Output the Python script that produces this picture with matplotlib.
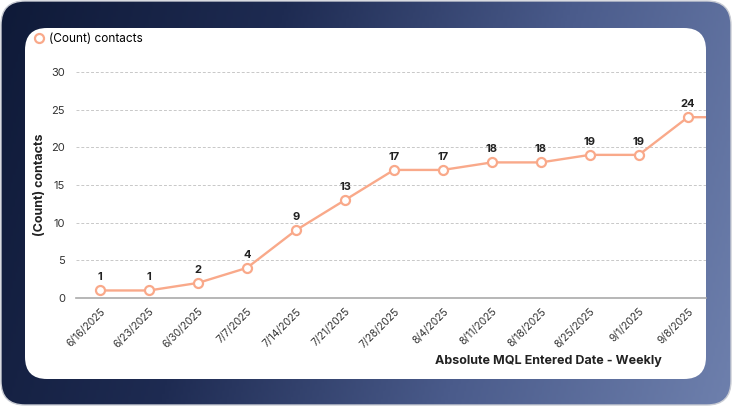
import matplotlib
matplotlib.use("Agg")
import matplotlib.pyplot as plt
import numpy as np
from matplotlib.patches import FancyBboxPatch
from matplotlib.lines import Line2D
from matplotlib.colors import LinearSegmentedColormap

# ── Data ────────────────────────────────────────────────────────────
weeks = ["6/16/2025", "6/23/2025", "6/30/2025", "7/7/2025", "7/14/2025",
         "7/21/2025", "7/28/2025", "8/4/2025", "8/11/2025", "8/18/2025",
         "8/25/2025", "9/1/2025", "9/8/2025", "9/15/2025"]
contacts = [1, 1, 2, 4, 9, 13, 17, 17, 18, 18, 19, 19, 24, 24]
y_ticks = [0, 5, 10, 15, 20, 25, 30]

C_LINE = "#F9A98A"
C_TEXT = "#222222"
FONT = ["Inter", "DejaVu Sans"]

W, H = 732, 409
fig = plt.figure(figsize=(W / 100, H / 100), dpi=100, facecolor="white")
plt.rcParams["font.family"] = FONT


def px(x, y):
    """pixel (from top-left) -> figure fraction"""
    return x / W, 1 - y / H


# ── Background panel with gradient ─────────────────────────────────
bg = fig.add_axes([0, 0, 1, 1])
bg.set_xlim(0, W)
bg.set_ylim(H, 0)
bg.axis("off")
cmap = LinearSegmentedColormap.from_list("bg", ["#0F1A38", "#1E2B52", "#4A5B8B", "#6E80AD"])
gx, gy = np.meshgrid(np.linspace(0, 1, 300), np.linspace(0, 1, 200))
grad = 0.85 * gx + 0.15 * gy
im = bg.imshow(grad, cmap=cmap, extent=[0, W, H, 0], aspect="auto", zorder=0)
panel = FancyBboxPatch((1, 1), W - 2, H - 5, boxstyle="round,pad=0,rounding_size=24",
                       facecolor="none", edgecolor="#C9CCD4", linewidth=1, zorder=1)
bg.add_patch(panel)
im.set_clip_path(panel)

card = FancyBboxPatch((25, 28), 681, 351, boxstyle="round,pad=0,rounding_size=22",
                      facecolor="white", edgecolor="none", zorder=2)
bg.add_patch(card)

# ── Chart ───────────────────────────────────────────────────────────
l, t = px(76, 72)
r, b = px(706, 298)
ax = fig.add_axes([l, b, r - l, t - b])
ax.set_facecolor("none")

x = np.arange(len(weeks))
ax.plot(x, contacts, color=C_LINE, linewidth=1.7, marker="o", markersize=6.5,
        markerfacecolor="white", markeredgecolor=C_LINE, markeredgewidth=1.6, zorder=3)

for xi, v in zip(x, contacts):
    ax.annotate(str(v), (xi, v), xytext=(0, 6), textcoords="offset points",
                ha="center", va="bottom", fontsize=8, fontweight="bold", color=C_TEXT)

ax.set_yticks(y_ticks)
ax.set_xticks(x)
ax.set_xticklabels(weeks, rotation=45, ha="right", rotation_mode="anchor")
ax.set_xlim(-0.49, 12.37)
ax.set_ylim(0, 30)
ax.tick_params(axis="x", length=0, labelsize=7.5, labelcolor="#333333", pad=6)
ax.tick_params(axis="y", length=0, labelsize=8, labelcolor="#333333", pad=8)
ax.grid(axis="y", linestyle=(0, (3, 2)), color="#C8C8C8", linewidth=0.7)
ax.grid(axis="x", visible=False)
for s in ["top", "right", "left"]:
    ax.spines[s].set_visible(False)
ax.spines["bottom"].set_color("#AAAAAA")
ax.spines["bottom"].set_linewidth(1.2)

ax.set_ylabel("(Count) contacts", fontsize=9, fontweight="bold", color=C_TEXT)
ax.yaxis.set_label_coords(-(76 - 46) / 630, 0.5)

xl, yl = px(662, 361)
fig.text(xl, yl, "Absolute MQL Entered Date - Weekly", ha="right", va="center",
         fontsize=9, fontweight="bold", color=C_TEXT)

# legend
handle = Line2D([], [], linestyle="none", marker="o", markersize=6.5,
                markerfacecolor="white", markeredgecolor=C_LINE, markeredgewidth=1.6)
lx, ly = px(32, 31)
fig.legend([handle], ["(Count) contacts"], loc="upper left", bbox_to_anchor=(lx, ly),
           frameon=False, fontsize=8.5, handlelength=0.8, handletextpad=0.4,
           borderaxespad=0, borderpad=0.2)

fig.savefig("out.png", dpi=100, facecolor="white")
